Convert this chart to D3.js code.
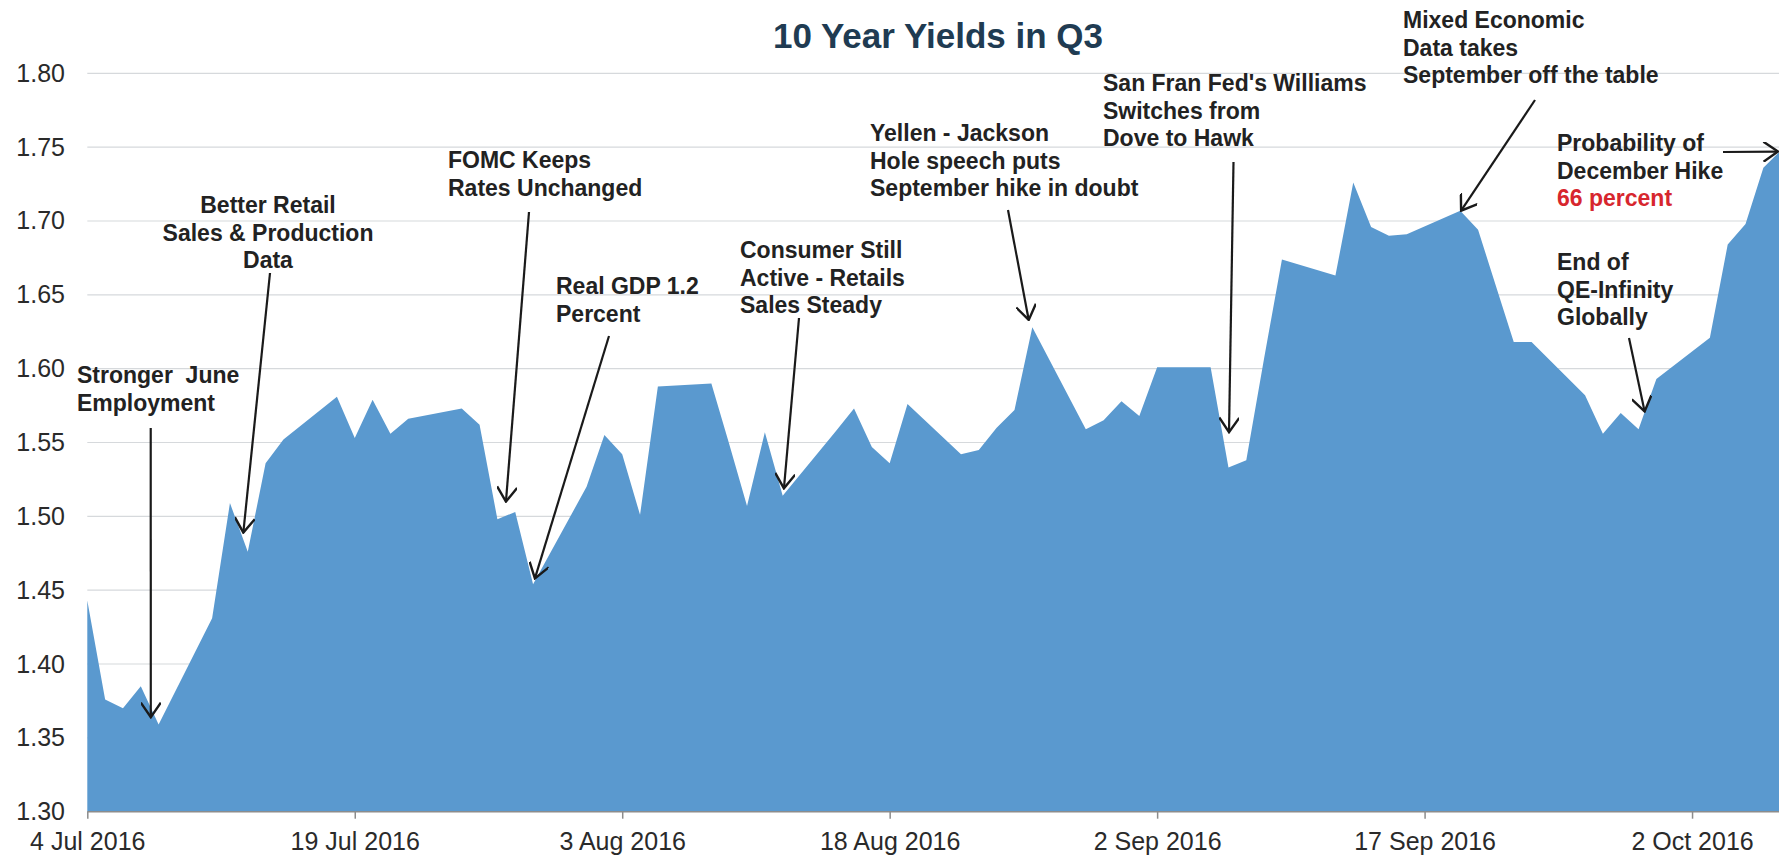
<!DOCTYPE html>
<html>
<head>
<meta charset="utf-8">
<title>10 Year Yields in Q3</title>
<script src="https://cdn.jsdelivr.net/npm/d3@7"></script>
<style>
  html, body { margin: 0; padding: 0; background: #ffffff; }
  svg { display: block; font-family: "Liberation Sans", Arial, Helvetica, sans-serif; }
</style>
</head>
<body>
<svg id="chart" width="1779" height="860"></svg>
<script>
// 10-year Treasury yield, trading days, Q3 2016 into early October
const tradeDates = [
  "2016-07-04","2016-07-05","2016-07-06","2016-07-07","2016-07-08",
  "2016-07-11","2016-07-12","2016-07-13","2016-07-14","2016-07-15",
  "2016-07-18","2016-07-19","2016-07-20","2016-07-21","2016-07-22",
  "2016-07-25","2016-07-26","2016-07-27","2016-07-28","2016-07-29",
  "2016-08-01","2016-08-02","2016-08-03","2016-08-04","2016-08-05",
  "2016-08-08","2016-08-09","2016-08-10","2016-08-11","2016-08-12",
  "2016-08-15","2016-08-16","2016-08-17","2016-08-18","2016-08-19",
  "2016-08-22","2016-08-23","2016-08-24","2016-08-25","2016-08-26",
  "2016-08-29","2016-08-30","2016-08-31","2016-09-01","2016-09-02",
  "2016-09-05","2016-09-06","2016-09-07","2016-09-08","2016-09-09",
  "2016-09-12","2016-09-13","2016-09-14","2016-09-15","2016-09-16",
  "2016-09-19","2016-09-20","2016-09-21","2016-09-22","2016-09-23",
  "2016-09-26","2016-09-27","2016-09-28","2016-09-29","2016-09-30",
  "2016-10-03","2016-10-04","2016-10-05","2016-10-06","2016-10-07"
];
const yields = [
  1.443, 1.376, 1.370, 1.385, 1.359,
  1.431, 1.509, 1.476, 1.536, 1.552,
  1.581, 1.553, 1.579, 1.556, 1.566,
  1.573, 1.562, 1.498, 1.503, 1.454,
  1.520, 1.555, 1.542, 1.501, 1.588,
  1.590, 1.549, 1.507, 1.557, 1.514,
  1.558, 1.573, 1.547, 1.536, 1.576,
  1.542, 1.545, 1.560, 1.572, 1.628,
  1.559, 1.565, 1.578, 1.568, 1.601,
  1.601, 1.533, 1.538, 1.607, 1.674,
  1.663, 1.726, 1.696, 1.690, 1.691,
  1.707, 1.694, 1.656, 1.618, 1.618,
  1.582, 1.556, 1.570, 1.559, 1.593,
  1.621, 1.684, 1.698, 1.736, 1.748
];

const yTickValues = [1.30, 1.35, 1.40, 1.45, 1.50, 1.55, 1.60, 1.65, 1.70, 1.75, 1.80];
const xTickDates = ["2016-07-04","2016-07-19","2016-08-03","2016-08-18","2016-09-02","2016-09-17","2016-10-02"];
const chartTitle = "10 Year Yields in Q3";

// Event notes: text lines and the point (date, yield) each arrow points at
const noteLines = [
  ["Stronger\u00a0 June", "Employment"],
  ["Better Retail", "Sales & Production", "Data"],
  ["FOMC Keeps", "Rates Unchanged"],
  ["Real GDP 1.2", "Percent"],
  ["Consumer Still", "Active - Retails", "Sales Steady"],
  ["Yellen - Jackson", "Hole speech puts", "September hike in doubt"],
  ["San Fran Fed's Williams", "Switches from", "Dove to Hawk"],
  ["Mixed Economic", "Data takes", "September off the table"],
  ["Probability of", "December Hike", "66 percent"],
  ["End of", "QE-Infinity", "Globally"]
];
const noteTipDates = [
  "2016-07-07T13:30", "2016-07-12T18:00", "2016-07-27T11:30", "2016-07-29T02:30",
  "2016-08-12T01:40", "2016-08-25T19:10", "2016-09-06T00:45", "2016-09-19T01:10",
  "2016-10-06T19:40", "2016-09-29T08:10"
];
const noteTipYields = [1.364, 1.489, 1.510, 1.458, 1.519, 1.633, 1.557, 1.707, 1.747, 1.571];

// ---- layout ----
const W = 1779, H = 860;
const plot = { left: 87.3, right: 1781.2, top: 73.3, bottom: 811.7 };
const parseDay = d3.utcParse("%Y-%m-%d");
const parseTime = d3.utcParse("%Y-%m-%dT%H:%M");

const series = tradeDates.map((d, i) => ({ date: parseDay(d), value: yields[i] }));

const x = d3.scaleUtc()
  .domain([parseDay("2016-07-04"), parseDay("2016-10-07")])
  .range([plot.left, plot.right]);
const y = d3.scaleLinear()
  .domain([1.30, 1.80])
  .range([plot.bottom, plot.top]);

const svg = d3.select("#chart");

// title
svg.append("text")
  .attr("x", 938).attr("y", 48)
  .attr("text-anchor", "middle")
  .attr("font-size", 35).attr("font-weight", "bold")
  .attr("fill", "#203b52")
  .text(chartTitle);

// horizontal gridlines
svg.append("g")
  .selectAll("line")
  .data(yTickValues.slice(1))
  .join("line")
  .attr("x1", plot.left).attr("x2", W)
  .attr("y1", d => y(d)).attr("y2", d => y(d))
  .attr("stroke", "#d6d9dc").attr("stroke-width", 1.2);

// filled area of the yield series
const area = d3.area()
  .x(d => x(d.date))
  .y0(y(1.30))
  .y1(d => y(d.value));
svg.append("path")
  .datum(series)
  .attr("d", area)
  .attr("fill", "#5a99cf");

// y axis labels
const yAxis = d3.axisLeft(y)
  .tickValues(yTickValues)
  .tickFormat(d3.format(".2f"))
  .tickSize(0).tickPadding(0);
const gy = svg.append("g").attr("transform", `translate(65,0)`).call(yAxis);
gy.select(".domain").remove();
gy.selectAll("text")
  .attr("font-size", 25).attr("fill", "#2a2a2a")
  .attr("font-family", '"Liberation Sans", Arial, sans-serif');

// x axis
const xAxis = d3.axisBottom(x)
  .tickValues(xTickDates.map(parseDay))
  .tickFormat(d3.utcFormat("%-d %b %Y"))
  .tickSize(7).tickSizeOuter(0).tickPadding(14);
const gx = svg.append("g").attr("transform", `translate(0,${plot.bottom})`).call(xAxis);
gx.select(".domain").attr("stroke", "#8c8c8c").attr("stroke-width", 1.5)
  .attr("d", `M${plot.left},0H${W}`);
gx.selectAll(".tick line").attr("stroke", "#8c8c8c").attr("stroke-width", 1.5);
gx.selectAll("text")
  .attr("font-size", 25).attr("fill", "#2a2a2a")
  .attr("font-family", '"Liberation Sans", Arial, sans-serif');

// arrowhead marker (open V)
svg.append("defs").append("marker")
  .attr("id", "arrowV")
  .attr("viewBox", "0 0 20 20")
  .attr("refX", 18.5).attr("refY", 10)
  .attr("markerUnits", "userSpaceOnUse")
  .attr("markerWidth", 20).attr("markerHeight", 20)
  .attr("orient", "auto")
  .append("path")
  .attr("d", "M4,0 L18.5,10 L4,20")
  .attr("fill", "none").attr("stroke", "#1a1a1a").attr("stroke-width", 2.4)
  .attr("stroke-linejoin", "miter");

// note placement: text anchor point, alignment, arrow tail
const noteLayout = [
  { tx: 77,   ty: 383, anchor: "start",  ax: 150.7, ay: 428 },
  { tx: 268,  ty: 213, anchor: "middle", ax: 270,   ay: 273 },
  { tx: 448,  ty: 168, anchor: "start",  ax: 529,   ay: 212 },
  { tx: 556,  ty: 294, anchor: "start",  ax: 609,   ay: 336 },
  { tx: 740,  ty: 258, anchor: "start",  ax: 799,   ay: 318 },
  { tx: 870,  ty: 141, anchor: "start",  ax: 1008,  ay: 210 },
  { tx: 1103, ty: 91,  anchor: "start",  ax: 1233.5,ay: 162 },
  { tx: 1403, ty: 28,  anchor: "start",  ax: 1535,  ay: 100 },
  { tx: 1557, ty: 151, anchor: "start",  ax: 1723,  ay: 152 },
  { tx: 1557, ty: 270, anchor: "start",  ax: 1629,  ay: 338 }
];
const lineGap = 27.5;

const notes = svg.append("g").attr("class", "notes");
noteLines.forEach((lines, i) => {
  const L = noteLayout[i];
  const t = notes.append("text")
    .attr("x", L.tx).attr("y", L.ty)
    .attr("text-anchor", L.anchor)
    .attr("font-size", 23).attr("font-weight", "bold")
    .attr("fill", "#222222");
  lines.forEach((s, j) => {
    t.append("tspan")
      .attr("x", L.tx)
      .attr("y", L.ty + j * lineGap)
      .attr("fill", (i === 8 && j === 2) ? "#d7262e" : "#222222")
      .text(s);
  });
  notes.append("line")
    .attr("x1", L.ax).attr("y1", L.ay)
    .attr("x2", x(parseTime(noteTipDates[i])))
    .attr("y2", y(noteTipYields[i]))
    .attr("stroke", "#1a1a1a").attr("stroke-width", 2.2)
    .attr("marker-end", "url(#arrowV)");
});
</script>
</body>
</html>
